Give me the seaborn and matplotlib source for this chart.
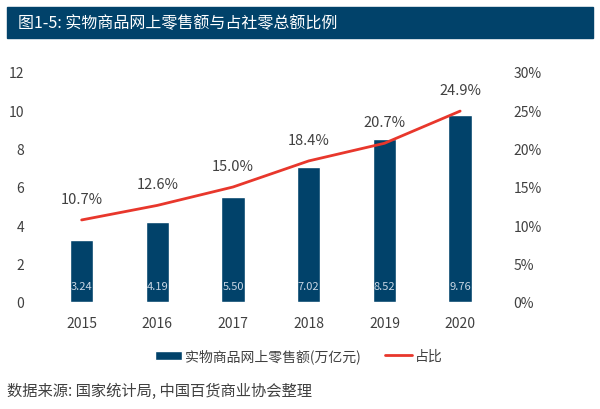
import pandas as pd
import matplotlib.pyplot as plt
import seaborn as sns
from matplotlib.patches import Rectangle

# data
years = ["2015", "2016", "2017", "2018", "2019", "2020"]
sales = [3.24, 4.19, 5.50, 7.02, 8.52, 9.76]      # 万亿元
share = [10.7, 12.6, 15.0, 18.4, 20.7, 24.9]      # %

navy = "#01426A"
red = "#E8372C"
grey = "#404040"

sns.set_style("white")
plt.rcParams['font.family'] = ['Noto Sans CJK SC', 'DejaVu Sans']

df = pd.DataFrame({"year": years, "sales": sales, "share": share})

fig = plt.figure(figsize=(6, 4.1), dpi=100)
ax = fig.add_axes([0.073, 0.261, 0.757, 0.561])

sns.barplot(data=df, x="year", y="sales", color=navy, width=0.31,
            saturation=1, ax=ax, label="实物商品网上零售额(万亿元)")
ax.set_ylim(0, 12)
ax.set_xlim(-0.5, 5.5)
ax.set_yticks(range(0, 13, 2))
ax.set_xlabel("")
ax.set_ylabel("")
ax.tick_params(axis="both", length=0, labelsize=10, labelcolor=grey)
ax.tick_params(axis="y", pad=14)
ax.tick_params(axis="x", pad=10)
for i, v in enumerate(sales):
    ax.text(i, 0.85, f"{v:.2f}", ha="center", va="center", color="#C9D6E3", fontsize=8)

ax2 = ax.twinx()
sns.lineplot(x=list(range(len(years))), y=share, color=red, linewidth=2, ax=ax2, label="占比")
ax2.set_ylim(0, 30)
ax2.set_yticks(range(0, 31, 5))
ax2.set_yticklabels([f"{t}%" for t in range(0, 31, 5)])
ax2.tick_params(axis="y", length=0, labelsize=10, labelcolor=grey, pad=11)
for i, v in enumerate(share):
    ax2.annotate(f"{v:.1f}%", (i, v), xytext=(0, 10), textcoords="offset points",
                 ha="center", va="bottom", color=grey, fontsize=10.5)

for a in (ax, ax2):
    for s in a.spines.values():
        s.set_visible(False)

h1, l1 = ax.get_legend_handles_labels()
h2, l2 = ax2.get_legend_handles_labels()
ax2.get_legend().remove()
if ax.get_legend():
    ax.get_legend().remove()
fig.legend(h1 + h2, l1 + l2, loc="center", bbox_to_anchor=(0.498, 0.13), ncol=2,
           frameon=False, fontsize=10, handlelength=1.95, handleheight=0.6,
           columnspacing=1.7, handletextpad=0.25, labelcolor=grey)

# title banner
fig.patches.append(Rectangle((0.012, 0.905), 0.977, 0.075, transform=fig.transFigure,
                             color="#01426A", zorder=0))
fig.text(0.03, 0.942, "图1-5: 实物商品网上零售额与占社零总额比例", color="white",
         fontsize=11.5, va="center", ha="left")

fig.text(0.012, 0.045, "数据来源: 国家统计局, 中国百货商业协会整理", color=grey,
         fontsize=11, style="italic", va="center", ha="left")

fig.savefig("out.png", dpi=100)
